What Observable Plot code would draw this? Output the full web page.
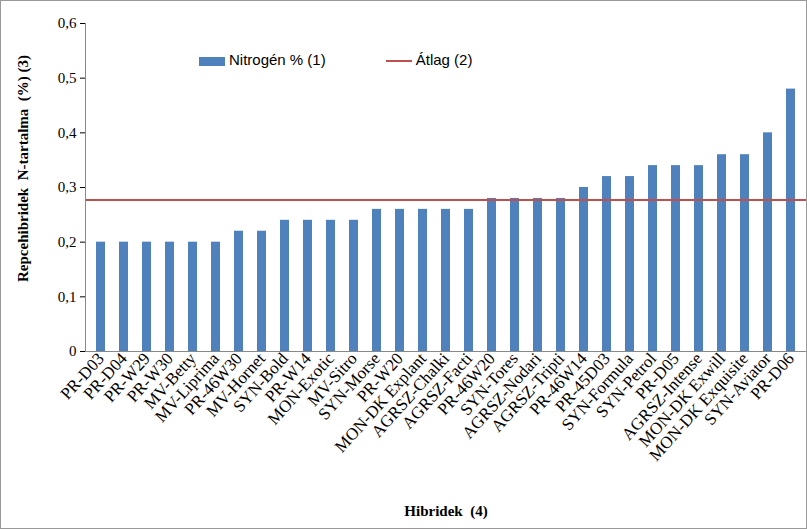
<!DOCTYPE html>
<html><head><meta charset="utf-8">
<script src="https://cdn.jsdelivr.net/npm/d3@7"></script>
<script src="https://cdn.jsdelivr.net/npm/@observablehq/plot@0.6"></script>
<style>
body{margin:0;background:#fff;font-family:"Liberation Serif",serif}
#wrap{position:relative;width:805px;height:527px;border:1px solid #999}
#legend{position:absolute;left:198px;top:50px;font:15px "Liberation Sans",Arial,sans-serif;display:flex;gap:60px;align-items:center}
.sw{display:inline-block;vertical-align:middle;margin-right:4px}
</style></head><body>
<div id="wrap"><div id="chart"></div>
<div id="legend"><span><span class="sw" style="width:26px;height:9px;background:#4f81bd"></span>Nitrogén % (1)</span>
<span><span class="sw" style="width:26px;height:2px;background:#c0504d"></span>Átlag (2)</span></div></div>
<script>
const hybrids = ["PR-D03","PR-D04","PR-W29","PR-W30","MV-Betty","MV-Liprima","PR-46W30","MV-Hornet","SYN-Bold","PR-W14","MON-Exotic","MV-Sitro","SYN-Morse","PR-W20","MON-DK Explant","AGRSZ-Chalki","AGRSZ-Facti","PR-46W20","SYN-Tores","AGRSZ-Nodari","AGRSZ-Tripti","PR-46W14","PR-45D03","SYN-Formula","SYN-Petrol","PR-D05","AGRSZ-Intense","MON-DK Exwill","MON-DK Exquisite","SYN-Aviator","PR-D06"];
const nitrogen = [0.2,0.2,0.2,0.2,0.2,0.2,0.22,0.22,0.24,0.24,0.24,0.24,0.26,0.26,0.26,0.26,0.26,0.28,0.28,0.28,0.28,0.3,0.32,0.32,0.34,0.34,0.34,0.36,0.36,0.4,0.48];
const average = 0.277;
const data = hybrids.map((h,i)=>({h, v: nitrogen[i]}));
const fmt = d3.format(".1f");
const yTicks = d3.range(0, 0.61, 0.1);
const plot = Plot.plot({
  width: 805, height: 527,
  marginTop: 22, marginBottom: 177, marginLeft: 84, marginRight: 0,
  style: {fontFamily: "Liberation Serif, serif", fontSize: "15px", color: "#000"},
  x: {domain: hybrids, paddingInner: 0.6, paddingOuter: 0.3, label: null},
  y: {domain: [0, 0.6], label: null},
  marks: [
    Plot.barY(data, {x: "h", y: "v", fill: "#4f81bd"}),
    Plot.ruleY([average], {stroke: "#c0504d", strokeWidth: 2}),
    Plot.ruleY([0], {stroke: "#888"}),
    Plot.frame({anchor: "left", stroke: "#888"}),
    Plot.axisX({tickRotate: -48, tickSize: 0, fontSize: 17, label: null, tickPadding: 4}),
    Plot.axisY({ticks: yTicks, tickFormat: d => d === 0 ? "0" : fmt(d).replace(".", ","), label: null, tickSize: 5, fontSize: 15}),
    Plot.text(["Repcehibridek  N-tartalma  (%) (3)"], {frameAnchor: "left", textAnchor: "middle", dx: -62, dy: -19, rotate: -90, fontWeight: "bold", fontSize: 15}),
    Plot.text(["Hibridek  (4)"], {frameAnchor: "bottom", dy: 164, fontWeight: "bold", fontSize: 15})
  ]
});
document.getElementById("chart").appendChild(plot);
</script></body></html>
